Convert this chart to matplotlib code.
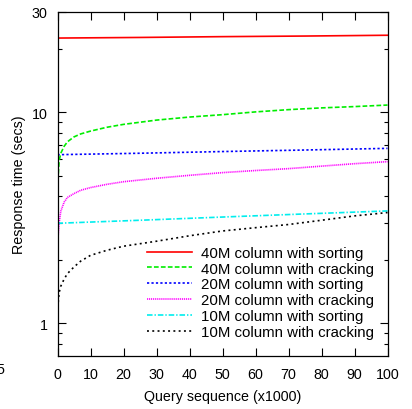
import matplotlib
matplotlib.use("Agg")
import matplotlib.pyplot as plt
from matplotlib.ticker import FixedLocator, NullFormatter, FixedFormatter

plt.rcParams['font.family'] = ['Liberation Sans', 'DejaVu Sans']
plt.rcParams['lines.scale_dashes'] = False

# Query sequence positions (x1000)
crack_x = [0, 0.2, 0.5, 1, 2, 3, 5, 7, 10, 15, 20, 30, 40, 50, 60, 70, 80, 90, 100]
sort_x = [0, 25, 50, 75, 100]

# Cumulative response time (secs)
sort_40m = [22.5, 22.65, 22.85, 23.0, 23.2]
crack_40m = [3.5, 5.0, 5.9, 6.4, 6.9, 7.25, 7.65, 7.9, 8.15, 8.5, 8.77, 9.19, 9.5, 9.75, 10.05, 10.3, 10.5, 10.65, 10.83]
sort_20m = [6.30, 6.40, 6.52, 6.63, 6.75]
crack_20m = [2.0, 2.6, 3.0, 3.4, 3.75, 3.95, 4.12, 4.27, 4.40, 4.56, 4.69, 4.87, 5.03, 5.18, 5.30, 5.41, 5.56, 5.71, 5.84]
sort_10m = [2.98, 3.08, 3.19, 3.30, 3.41]
crack_10m = [1.0, 1.25, 1.40, 1.50, 1.62, 1.72, 1.85, 1.97, 2.10, 2.22, 2.32, 2.45, 2.60, 2.74, 2.84, 2.94, 3.08, 3.23, 3.35]

labels = ["40M column with sorting", "40M column with cracking",
          "20M column with sorting", "20M column with cracking",
          "10M column with sorting", "10M column with cracking"]

fig = plt.figure(figsize=(4.12, 4.10), dpi=100)
ax = fig.add_axes([57.5 / 412, 1 - 357 / 410, 330 / 412, 344.3 / 410])

lw = 1.2
ax.plot(sort_x, sort_40m, color='#ff0000', lw=lw, label=labels[0])
ax.plot(crack_x, crack_40m, color='#00ee00', lw=lw, dashes=(3.4, 1.6), label=labels[1])
ax.plot(sort_x, sort_20m, color='#0000ff', lw=lw, dashes=(1.6, 1.6), label=labels[2])
ax.plot(crack_x, crack_20m, color='#ff00ff', lw=lw, dashes=(0.8, 0.6), label=labels[3])
ax.plot(sort_x, sort_10m, color='#00eeee', lw=lw, dashes=(4.0, 1.4, 1.0, 1.4), label=labels[4])
ax.plot(crack_x, crack_10m, color='#000000', lw=lw, dashes=(1.4, 2.4), label=labels[5])

ax.set_yscale('log')
ax.set_xlim(0, 100)
ax.set_ylim(0.7, 30)

ax.xaxis.set_major_locator(FixedLocator(list(range(0, 101, 10))))
ax.yaxis.set_major_locator(FixedLocator([1, 10, 30]))
ax.yaxis.set_major_formatter(FixedFormatter(['1', '10', '30']))
minor = [0.8, 0.9] + list(range(2, 10)) + [20]
ax.yaxis.set_minor_locator(FixedLocator(minor))
ax.yaxis.set_minor_formatter(NullFormatter())

ax.tick_params(which='both', direction='in', top=True, right=True, width=0.8, labelsize=10.3)
ax.tick_params(which='major', length=5.5)
ax.tick_params(axis='x', which='major', pad=8)
ax.tick_params(axis='y', which='major', pad=7)
ax.tick_params(which='minor', length=3)
for s in ax.spines.values():
    s.set_linewidth(0.9)

ax.set_xlabel('Query sequence (x1000)', fontsize=10.3, labelpad=6)
ax.set_ylabel('Response time (secs)', fontsize=10.3, labelpad=4)

ax.legend(loc='lower left', bbox_to_anchor=(0.27, 0.05), frameon=False,
          fontsize=10.8, handlelength=3.0, handletextpad=0.6, labelspacing=0.12,
          borderpad=0, borderaxespad=0)

# tick label spilling over from a neighbouring panel
fig.text(4 / 412, 1 - 370 / 410, '5', ha='right', va='center', fontsize=10.3)

fig.savefig('out.png', dpi=100)
